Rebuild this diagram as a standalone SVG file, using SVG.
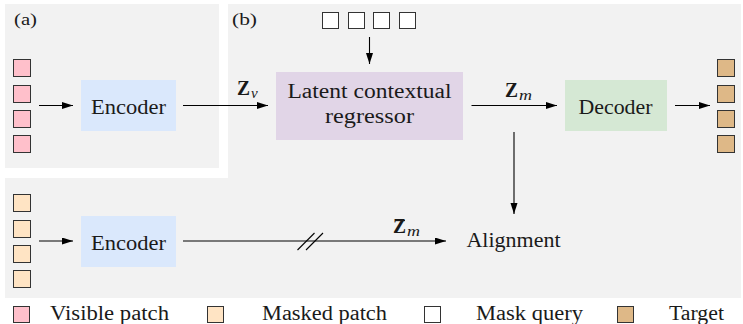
<svg xmlns="http://www.w3.org/2000/svg" width="743" height="324" viewBox="0 0 743 324" font-family="Liberation Serif, Times New Roman, Times, serif">
<style>
.bg{fill:#f2f2f2}
text{font-family:'Liberation Serif','Times New Roman',Times,serif}
.t{font-size:20px;fill:#1a1a1a}
.lbl{font-size:17px;fill:#1a1a1a}
.zb{font-size:20px;font-weight:bold;fill:#1a1a1a}
.sub{font-size:15px;font-style:italic;fill:#1a1a1a}
.sq{stroke:#333;stroke-width:1}
.pink{fill:#ffc0cb}
.peach{fill:#ffe4c4}
.white{fill:#ffffff}
.tgt{fill:#deb887}
.ln{stroke:#000;stroke-width:1.1;fill:none}
</style>
<defs>
<marker id="ah" markerUnits="userSpaceOnUse" markerWidth="12" markerHeight="8" refX="11" refY="3.5" orient="auto">
<path d="M0,0 L11,3.5 L0,7 Z" fill="#000"/>
</marker>
</defs>
<g id="panels">
<path class="bg" d="M228,4 H741 V298 H5 V178 H228 Z"/>
<rect class="bg" x="5" y="4" width="214" height="164"/>
<text class="lbl" x="14" y="25" textLength="23" lengthAdjust="spacingAndGlyphs">(a)</text>
<text class="lbl" x="232" y="25" textLength="25" lengthAdjust="spacingAndGlyphs">(b)</text>
</g>
<g id="visible-patches">
<rect class="sq pink" x="13.5" y="59.5" width="17" height="17"/>
<rect class="sq pink" x="13.5" y="85.5" width="17" height="17"/>
<rect class="sq pink" x="13.5" y="110.5" width="17" height="17"/>
<rect class="sq pink" x="13.5" y="135.5" width="17" height="17"/>
</g>
<g id="encoder-a">
<rect x="81" y="80" width="95" height="51" fill="#dae8fc"/>
<text class="t" x="128.5" y="114" text-anchor="middle" textLength="75" lengthAdjust="spacingAndGlyphs">Encoder</text>
</g>
<g id="mask-queries">
<rect class="sq white" x="322.5" y="12.5" width="16" height="16"/>
<rect class="sq white" x="348.5" y="12.5" width="16" height="16"/>
<rect class="sq white" x="373.5" y="12.5" width="16" height="16"/>
<rect class="sq white" x="399.5" y="12.5" width="16" height="16"/>
</g>
<g id="regressor">
<rect x="276" y="72" width="187" height="68" fill="#e1d5e7"/>
<text class="t" x="369.5" y="98" text-anchor="middle" textLength="164" lengthAdjust="spacingAndGlyphs">Latent contextual</text>
<text class="t" x="369.5" y="123" text-anchor="middle" textLength="89" lengthAdjust="spacingAndGlyphs">regressor</text>
</g>
<g id="decoder">
<rect x="565" y="80" width="102" height="51" fill="#d5e8d4"/>
<text class="t" x="615.5" y="114" text-anchor="middle" textLength="74" lengthAdjust="spacingAndGlyphs">Decoder</text>
</g>
<g id="targets">
<rect class="sq tgt" x="717.5" y="59.5" width="17" height="17"/>
<rect class="sq tgt" x="717.5" y="85.5" width="17" height="17"/>
<rect class="sq tgt" x="717.5" y="110.5" width="17" height="17"/>
<rect class="sq tgt" x="717.5" y="135.5" width="17" height="17"/>
</g>
<g id="masked-patches">
<rect class="sq peach" x="13.5" y="194.5" width="17" height="17"/>
<rect class="sq peach" x="13.5" y="220.5" width="17" height="17"/>
<rect class="sq peach" x="13.5" y="245.5" width="17" height="17"/>
<rect class="sq peach" x="13.5" y="270.5" width="17" height="17"/>
</g>
<g id="encoder-b">
<rect x="81" y="216" width="95" height="51" fill="#dae8fc"/>
<text class="t" x="128.5" y="250" text-anchor="middle" textLength="75" lengthAdjust="spacingAndGlyphs">Encoder</text>
</g>
<g id="alignment">
<text class="t" x="466.5" y="247" textLength="94" lengthAdjust="spacingAndGlyphs">Alignment</text>
</g>
<g id="connectors">
<line class="ln" x1="39" y1="105.5" x2="73" y2="105.5" marker-end="url(#ah)"/>
<line class="ln" x1="183" y1="105.5" x2="268" y2="105.5" marker-end="url(#ah)"/>
<line class="ln" x1="369.5" y1="37" x2="369.5" y2="64" marker-end="url(#ah)"/>
<line class="ln" x1="471.5" y1="105.5" x2="557" y2="105.5" marker-end="url(#ah)"/>
<line class="ln" x1="675" y1="105.5" x2="710" y2="105.5" marker-end="url(#ah)"/>
<line class="ln" x1="514" y1="132" x2="514" y2="214" marker-end="url(#ah)"/>
<line class="ln" x1="39" y1="241" x2="73" y2="241" marker-end="url(#ah)"/>
<line class="ln" x1="183" y1="241" x2="446" y2="241" marker-end="url(#ah)"/>
<line class="ln" x1="297.5" y1="250" x2="314.5" y2="233"/>
<line class="ln" x1="306" y1="250" x2="323" y2="233"/>
<text class="zb" x="237" y="95" textLength="13" lengthAdjust="spacingAndGlyphs">Z</text><text class="sub" x="251" y="98">v</text>
<text class="zb" x="505" y="97" textLength="13" lengthAdjust="spacingAndGlyphs">Z</text><text class="sub" x="519" y="100" textLength="13" lengthAdjust="spacingAndGlyphs">m</text>
<text class="zb" x="393" y="233" textLength="13" lengthAdjust="spacingAndGlyphs">Z</text><text class="sub" x="407" y="236" textLength="13" lengthAdjust="spacingAndGlyphs">m</text>
<line x1="395" y1="220.5" x2="405" y2="220.5" stroke="#1a1a1a" stroke-width="1.3"/>
</g>
<g id="legend">
<rect class="sq pink" x="13.5" y="306.5" width="16" height="16"/>
<text class="t" x="50" y="319.5" textLength="119" lengthAdjust="spacingAndGlyphs">Visible patch</text>
<rect class="sq peach" x="207.5" y="306.5" width="16" height="16"/>
<text class="t" x="262" y="319.5" textLength="125" lengthAdjust="spacingAndGlyphs">Masked patch</text>
<rect class="sq white" x="424.5" y="306.5" width="16" height="16"/>
<text class="t" x="476" y="319.5" textLength="107" lengthAdjust="spacingAndGlyphs">Mask query</text>
<rect class="sq tgt" x="617.5" y="306.5" width="16" height="16"/>
<text class="t" x="669" y="319.5" textLength="55" lengthAdjust="spacingAndGlyphs">Target</text>
</g>
</svg>
